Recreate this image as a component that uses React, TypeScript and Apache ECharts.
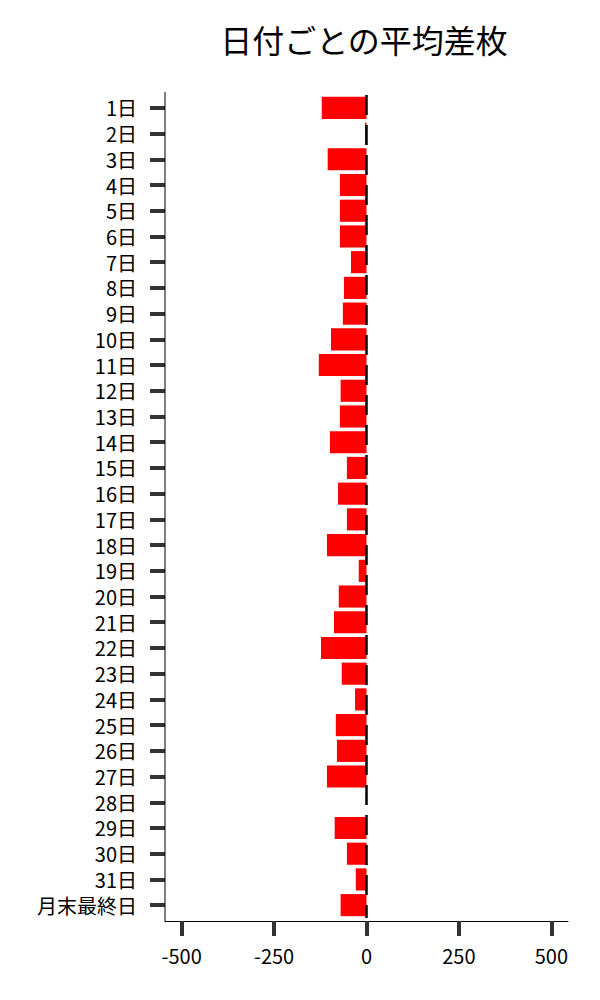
import React, { useEffect, useRef } from 'react';
import * as echarts from 'echarts';

const days: string[] = [
  '1日', '2日', '3日', '4日', '5日', '6日', '7日', '8日', '9日', '10日',
  '11日', '12日', '13日', '14日', '15日', '16日', '17日', '18日', '19日', '20日',
  '21日', '22日', '23日', '24日', '25日', '26日', '27日', '28日', '29日', '30日',
  '31日', '月末最終日'
];

// 28日はデータなし
const avgDiff: (number | string)[] = [
  -121, -4, -105, -72, -72, -72, -42, -61, -64, -96,
  -129, -70, -72, -99, -53, -77, -53, -107, -21, -75,
  -88, -123, -67, -31, -83, -80, -107, '-', -86, -53,
  -29, -70
];

const xTicks: number[] = [-500, -250, 0, 250, 500];

const FONT = '"Noto Sans CJK JP", "Noto Sans", sans-serif';

const App: React.FC = () => {
  const chartRef = useRef<HTMLDivElement>(null);

  useEffect(() => {
    document.body.style.margin = '0';
    if (!chartRef.current) return;
    const chart = echarts.init(chartRef.current, undefined, { renderer: 'svg' });

    chart.setOption({
      animation: false,
      backgroundColor: '#ffffff',
      title: {
        text: '日付ごとの平均差枚',
        left: 359,
        top: 18,
        textAlign: 'center',
        textStyle: { fontFamily: FONT, fontSize: 32, fontWeight: 'normal', color: '#000' }
      },
      grid: { left: 165, right: 32, top: 95, bottom: 82 },
      // 左の軸線は上下に少しはみ出す
      graphic: [
        {
          type: 'line',
          shape: { x1: 165, y1: 92, x2: 165, y2: 921 },
          style: { stroke: '#000', lineWidth: 1 },
          z: 10
        }
      ],
      xAxis: {
        type: 'value',
        min: -545,
        max: 545,
        offset: 3,
        splitLine: { show: false },
        axisLine: { show: true, onZero: false, lineStyle: { color: '#000', width: 1 } },
        axisTick: {
          show: true,
          customValues: xTicks,
          length: 15,
          lineStyle: { color: '#333', width: 4 }
        },
        axisLabel: {
          customValues: xTicks,
          margin: 23,
          fontFamily: FONT,
          fontSize: 20,
          lineHeight: 22,
          color: '#000'
        }
      },
      yAxis: {
        type: 'category',
        data: days,
        inverse: true,
        axisLine: { show: false, onZero: false },
        axisTick: {
          show: true,
          interval: 0,
          alignWithLabel: true,
          length: 15,
          lineStyle: { color: '#333', width: 4 }
        },
        axisLabel: {
          interval: 0,
          margin: 28,
          fontFamily: FONT,
          fontSize: 20,
          lineHeight: 22,
          color: '#000'
        }
      },
      series: [
        {
          name: 'zero',
          type: 'scatter',
          data: [],
          z: 1,
          markLine: {
            silent: true,
            symbol: 'none',
            label: { show: false },
            lineStyle: { color: '#000', width: 2.5, type: [20, 10] },
            data: [{ xAxis: 0 }]
          }
        },
        {
          name: '平均差枚',
          type: 'bar',
          data: avgDiff,
          z: 3,
          barCategoryGap: '14%',
          itemStyle: { color: '#ff0000' }
        }
      ]
    });

    return () => {
      chart.dispose();
    };
  }, []);

  return <div ref={chartRef} style={{ width: 600, height: 1000 }} />;
};

export default App;
